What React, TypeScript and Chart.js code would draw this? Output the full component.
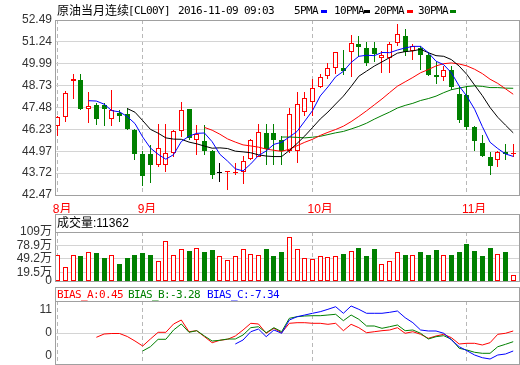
import React, { useEffect, useRef } from "react";
import { Chart, registerables } from "chart.js";

Chart.register(...registerables);

const N = 60;
const X_MIN = -0.36;
const X_MAX = 59.75;

const monthTicks = [0, 11, 33, 53];
const monthLabels = ["8月", "9月", "10月", "11月"];

const priceTicks = [42.47, 43.72, 44.97, 46.23, 47.48, 48.73, 49.99, 51.24, 52.49];
const priceTickLabels = ["42.47", "43.72", "44.97", "46.23", "47.48", "48.73", "49.99", "51.24", "52.49"];

const volTicks = [0, 19.5, 49.2, 78.9, 109];
const volTickLabels = ["0", "19.5万", "49.2万", "78.9万", "109万"];

const biasTicks = [-11, 0, 11];
const biasTickLabels = ["0", "0", "11"];

const opens = [46.41, 46.95, 49.02, 49.04, 47.41, 47.6, 47.6, 46.83, 47.18, 47.08, 46.22, 44.83, 44.83, 44.16, 44.16, 44.87, 46.16, 47.37, 45.64, 45.58, 45.01, 43.72, 43.76, 43.72, 43.78, 44.53, 44.64, 46.03, 46.03, 45.64, 45.01, 45.01, 47.24, 47.81, 48.65, 49.29, 49.77, 49.72, 50.64, 51.12, 50.89, 50.87, 50.29, 50.29, 51.17, 51.59, 50.73, 50.87, 50.48, 49.33, 49.25, 49.62, 48.23, 48.18, 46.35, 45.45, 44.62, 44.49, 44.93, 44.8];
const highs = [46.97, 48.42, 49.39, 49.39, 48.37, 47.76, 47.76, 48.46, 47.33, 47.47, 46.27, 45.01, 45.35, 46.56, 46.56, 46.2, 47.79, 47.4, 46.5, 46.5, 45.03, 44.3, 43.81, 44.3, 44.68, 45.66, 46.55, 46.55, 46.55, 45.83, 47.47, 48.37, 48.37, 49.14, 49.39, 50.0, 50.66, 50.77, 51.63, 51.59, 51.21, 51.21, 50.73, 51.25, 52.27, 51.98, 51.12, 51.02, 50.64, 50.06, 49.87, 49.87, 48.71, 48.71, 46.41, 45.93, 44.91, 44.97, 45.41, 45.41];
const lows = [45.83, 46.64, 47.95, 47.33, 46.6, 46.45, 46.41, 46.41, 46.64, 46.22, 44.49, 43.01, 43.18, 44.08, 43.81, 44.62, 45.8, 45.6, 44.74, 44.78, 43.39, 43.24, 42.76, 43.62, 43.09, 44.5, 44.62, 44.2, 44.2, 44.2, 44.87, 44.33, 46.98, 47.02, 48.62, 49.14, 49.39, 49.33, 49.2, 50.35, 49.87, 50.06, 49.48, 49.48, 51.02, 50.44, 50.21, 49.63, 49.29, 48.85, 49.0, 48.48, 46.6, 46.22, 44.97, 44.66, 43.62, 44.1, 44.49, 44.64];
const closes = [46.95, 48.33, 49.14, 47.37, 47.58, 46.83, 47.41, 47.33, 46.98, 46.27, 44.83, 43.53, 44.2, 45.16, 44.87, 46.12, 47.31, 45.74, 45.97, 44.97, 43.62, 43.72, 43.78, 43.74, 44.39, 45.64, 46.08, 45.1, 45.64, 45.01, 47.12, 47.7, 48.04, 48.62, 49.2, 49.72, 50.64, 49.58, 51.17, 50.93, 50.02, 50.54, 50.48, 51.12, 51.69, 50.64, 50.98, 50.48, 49.33, 49.23, 49.62, 48.65, 46.74, 46.35, 45.54, 44.68, 44.14, 44.93, 44.82, 44.84];

// volume in 万
const volumes = [57.2, 31.1, 57.2, 55.6, 63.8, 62.3, 51.8, 57.2, 37.8, 51.8, 57.2, 62.3, 57.8, 44.5, 88.3, 57.2, 70.5, 66.7, 72.7, 64.5, 69.0, 55.0, 46.7, 55.0, 70.5, 59.4, 57.2, 71.2, 55.6, 64.5, 97.9, 71.2, 51.2, 48.9, 55.6, 53.4, 55.6, 60.1, 66.7, 73.4, 55.6, 71.2, 37.8, 44.5, 64.5, 57.8, 57.8, 64.5, 57.8, 69.0, 57.8, 57.8, 64.5, 82.3, 66.7, 55.6, 73.4, 60.1, 64.5, 13.3];

// moving averages (first value at index given by *_START)
const MA5_START = 4;
const ma5 = [47.87, 47.85, 47.67, 47.3, 47.23, 46.96, 46.56, 45.79, 45.16, 44.8, 44.52, 44.78, 45.53, 45.84, 46.0, 46.02, 45.52, 44.8, 44.41, 43.97, 43.85, 44.25, 44.73, 44.99, 45.37, 45.49, 45.79, 46.11, 46.7, 47.3, 48.14, 48.66, 49.24, 49.55, 50.06, 50.41, 50.47, 50.45, 50.63, 50.62, 50.77, 50.89, 50.98, 50.98, 50.62, 50.13, 49.93, 49.46, 48.71, 48.12, 47.38, 46.39, 45.49, 45.13, 44.82, 44.68];
const MA10_START = 9;
const ma10 = [47.42, 47.21, 46.73, 46.23, 46.01, 45.74, 45.67, 45.66, 45.5, 45.4, 45.27, 45.15, 45.17, 45.13, 44.98, 44.94, 44.89, 44.77, 44.7, 44.67, 44.67, 45.02, 45.42, 45.85, 46.33, 46.82, 47.22, 47.68, 48.13, 48.68, 49.27, 49.56, 49.85, 50.09, 50.34, 50.59, 50.68, 50.72, 50.81, 50.62, 50.45, 50.41, 50.22, 49.85, 49.37, 48.76, 48.16, 47.48, 46.92, 46.47, 46.03];
const MA20_START = 19;
const ma20 = [46.34, 46.18, 45.95, 45.68, 45.5, 45.34, 45.28, 45.21, 45.1, 45.03, 44.97, 45.09, 45.29, 45.49, 45.66, 45.88, 46.06, 46.22, 46.41, 46.67, 46.97, 47.29, 47.63, 47.97, 48.34, 48.7, 48.95, 49.2, 49.47, 49.65, 49.86, 49.99, 50.03, 49.97, 49.86, 49.67, 49.42, 49.1, 48.86, 48.55, 48.24];
const MA30_START = 29;
const ma30 = [45.79, 45.79, 45.77, 45.74, 45.78, 45.83, 45.93, 46.03, 46.11, 46.25, 46.4, 46.58, 46.81, 47.02, 47.22, 47.45, 47.6, 47.72, 47.88, 47.99, 48.13, 48.33, 48.5, 48.59, 48.68, 48.72, 48.69, 48.62, 48.62, 48.59, 48.58];

const BIAS_A_START = 5;
const biasA = [-2.06, -0.48, -0.24, -0.24, -1.67, -3.83, -6.22, -2.87, 0.33, 0.33, 4.31, 6.22, 0.62, 1.1, -1.77, -4.64, -3.49, -3.01, -1.44, 1.44, 4.64, 4.31, -0.14, 2.25, 0.14, 4.64, 4.93, 4.93, 4.64, 4.64, 4.16, 4.64, 1.1, 4.16, 2.54, 0.14, 0.62, 1.1, 1.44, 2.54, -0.14, 0.62, -0.62, -2.54, -1.44, -0.62, -2.25, -5.26, -4.93, -4.93, -5.74, -4.64, -0.62, -0.14, 0.96];
const BIAS_B_START = 11;
const biasB = [-8.61, -6.56, -3.01, -3.01, 1.44, 4.31, 0.33, 1.1, -1.44, -3.83, -3.49, -2.87, -2.87, -0.96, 2.54, 3.01, 0.14, 2.54, 0.62, 7.03, 7.8, 8.13, 8.28, 8.28, 8.61, 8.95, 5.89, 8.61, 6.56, 3.35, 3.35, 2.25, 3.01, 3.83, 1.1, 1.44, -0.14, -2.87, -1.77, -1.29, -3.01, -7.32, -8.13, -9.23, -9.71, -9.71, -6.56, -5.41, -4.16];
const BIAS_C_START = 23;
const biasC = [-5.26, -3.35, 0.62, 1.91, -1.77, 1.44, -0.14, 6.22, 7.8, 8.61, 9.43, 10.19, 11.34, 12.58, 9.43, 12.92, 11.34, 9.43, 9.43, 9.43, 9.9, 10.53, 7.32, 4.93, 1.44, 0.96, 0.96, -0.14, -3.35, -6.56, -8.47, -10.53, -11.82, -12.44, -10.53, -10.05, -8.61];

const RED = "#ff0000";
const GREEN = "#008000";
const BLUE = "#0000ff";
const BLACK = "#000000";
const FRAME = "#a0a0a0";
const HGRID = "#d4d4d4";
const VGRID = "#b8b8b8";
const SANS = "'Liberation Sans', 'Noto Sans CJK SC', sans-serif";
const MONO = "'DejaVu Sans Mono', monospace";
const CJK = "'Noto Sans CJK SC', sans-serif";

const idx = Array.from({ length: N }, (_, i) => i);
const series = (start: number, arr: number[]) => arr.map((v, k) => ({ x: start + k, y: v }));

const candleColor = (i: number) => (closes[i] > opens[i] ? RED : closes[i] < opens[i] ? GREEN : BLACK);
const candleFill = (i: number) => (closes[i] > opens[i] ? "#ffffff" : closes[i] < opens[i] ? GREEN : BLACK);
const volColor = (i: number) => (closes[i] >= opens[i] ? RED : GREEN);
const volFill = (i: number) => (closes[i] >= opens[i] ? "#ffffff" : GREEN);

function framePlugin(boxTop: number | null) {
  return {
    id: "frame",
    afterDraw(chart: any) {
      const { ctx, chartArea: a } = chart;
      const top = boxTop === null ? a.top : boxTop;
      ctx.save();
      ctx.strokeStyle = FRAME;
      ctx.lineWidth = 1;
      ctx.strokeRect(a.left + 0.5, top + 0.5, a.right - a.left, a.bottom - top);
      if (boxTop !== null) {
        ctx.beginPath();
        ctx.moveTo(a.left, a.top + 0.5);
        ctx.lineTo(a.right + 1, a.top + 0.5);
        ctx.stroke();
      }
      ctx.restore();
    },
  };
}

// snap the bar elements (positioned by the scales) to whole pixels so edges stay crisp
const snapPlugin = {
  id: "snap",
  beforeDatasetsDraw(chart: any) {
    chart.data.datasets.forEach((_ds: any, di: number) => {
      const meta = chart.getDatasetMeta(di);
      if (meta.type !== "bar") return;
      meta.data.forEach((el: any) => {
        const w = el.width;
        const left = Math.round(el.x - w / 2);
        el.x = left + w / 2;
        el.y = Math.round(el.y);
        el.base = Math.round(el.base);
      });
    });
  },
};

function xScale(showLabels: boolean) {
  return {
    type: "linear",
    min: X_MIN,
    max: X_MAX,
    offset: false,
    afterBuildTicks: (s: any) => {
      s.ticks = monthTicks.map((v) => ({ value: v }));
    },
    afterFit: (s: any) => {
      s.height = showLabels ? 18 : 0;
      s.paddingLeft = 0;
      s.paddingRight = 0;
    },
    grid: { color: VGRID, lineWidth: 1, drawTicks: false, offset: false },
    border: { display: false, dash: [4, 3] },
    ticks: showLabels
      ? {
          display: true,
          autoSkip: false,
          maxRotation: 0,
          minRotation: 0,
          align: "start",
          labelOffset: -5,
          padding: 7,
          color: RED,
          font: { family: SANS, size: 12 },
          callback: (_v: any, i: number) => monthLabels[i],
        }
      : { display: false },
  };
}

function yScale(min: number, max: number, ticks: number[], labels: string[], gridColor: (v: number) => string) {
  return {
    type: "linear",
    min,
    max,
    afterBuildTicks: (s: any) => {
      s.ticks = ticks.map((v) => ({ value: v }));
    },
    afterFit: (s: any) => {
      s.width = 55;
      s.paddingTop = 0;
      s.paddingBottom = 0;
    },
    grid: {
      drawTicks: false,
      lineWidth: 1,
      color: (c: any) => gridColor(c.tick ? c.tick.value : 0),
    },
    border: { display: false },
    ticks: {
      autoSkip: false,
      padding: 3,
      color: "#333333",
      font: { family: SANS, size: 12 },
      callback: (_v: any, i: number) => labels[i],
    },
  };
}

const common = {
  responsive: false,
  animation: false,
  events: [],
  plugins: { legend: { display: false }, tooltip: { enabled: false } },
};

function mainConfig(): any {
  const line = (label: string, start: number, arr: number[], color: string) => ({
    type: "line",
    label,
    data: series(start, arr),
    borderColor: color,
    borderWidth: 1,
    pointRadius: 0,
    fill: false,
    tension: 0,
    order: 0,
  });
  return {
    type: "bar",
    data: {
      datasets: [
        line("5PMA", MA5_START, ma5, BLUE),
        line("10PMA", MA10_START, ma10, BLACK),
        line("20PMA", MA20_START, ma20, RED),
        line("30PMA", MA30_START, ma30, GREEN),
        {
          type: "bar",
          label: "body",
          data: idx.map((i) => ({ x: i, y: [opens[i], closes[i]] })),
          backgroundColor: idx.map(candleFill),
          borderColor: idx.map(candleColor),
          borderWidth: 1,
          borderSkipped: false,
          barThickness: 5,
          minBarLength: 1,
          grouped: false,
          inflateAmount: 0,
          order: 1,
        },
        {
          type: "bar",
          label: "wick",
          data: idx.map((i) => ({ x: i, y: [lows[i], highs[i]] })),
          backgroundColor: idx.map(candleColor),
          borderWidth: 0,
          barThickness: 1,
          grouped: false,
          inflateAmount: 0,
          order: 2,
        },
      ],
    },
    options: {
      ...common,
      layout: { padding: { left: 0, right: 1, top: 20, bottom: 0 } },
      scales: {
        x: xScale(true),
        y: yScale(42.47, 52.49, priceTicks, priceTickLabels, () => HGRID),
      },
    },
    plugins: [snapPlugin, framePlugin(null)],
  };
}

function volConfig(): any {
  return {
    type: "bar",
    data: {
      datasets: [
        {
          label: "成交量",
          data: idx.map((i) => ({ x: i, y: volumes[i] })),
          backgroundColor: idx.map(volFill),
          borderColor: idx.map(volColor),
          borderWidth: 1,
          borderSkipped: false,
          barThickness: 5,
          grouped: false,
          inflateAmount: 0,
        },
      ],
    },
    options: {
      ...common,
      layout: { padding: { left: 0, right: 1, top: 19, bottom: 3 } },
      scales: {
        x: xScale(false),
        y: yScale(0, 109, volTicks, volTickLabels, () => HGRID),
      },
    },
    plugins: [snapPlugin, framePlugin(1)],
  };
}

function biasConfig(): any {
  const line = (label: string, start: number, arr: number[], color: string) => ({
    type: "line",
    label,
    data: series(start, arr),
    borderColor: color,
    borderWidth: 1,
    pointRadius: 0,
    fill: false,
    tension: 0,
  });
  return {
    type: "line",
    data: {
      datasets: [
        line("BIAS_C", BIAS_C_START, biasC, BLUE),
        line("BIAS_B", BIAS_B_START, biasB, GREEN),
        line("BIAS_A", BIAS_A_START, biasA, RED),
      ],
    },
    options: {
      ...common,
      layout: { padding: { left: 0, right: 1, top: 17, bottom: 1 } },
      scales: {
        x: xScale(false),
        y: yScale(-14.83, 15.31, biasTicks, biasTickLabels, (v) => (v === 0 ? HGRID : "rgba(0,0,0,0)")),
      },
    },
    plugins: [framePlugin(3)],
  };
}

function T(props: { x: number; y: number; font: string; color?: string; ls?: string; children: React.ReactNode }) {
  return (
    <div
      style={{
        position: "absolute",
        left: props.x,
        top: props.y,
        font: props.font,
        lineHeight: "14px",
        color: props.color || "#000",
        letterSpacing: props.ls || "normal",
        whiteSpace: "nowrap",
      }}
    >
      {props.children}
    </div>
  );
}

function Dash(props: { x: number; color: string }) {
  return <div style={{ position: "absolute", left: props.x, top: 10, width: 6, height: 3, background: props.color }} />;
}

export default function App() {
  const mainRef = useRef<HTMLCanvasElement>(null);
  const volRef = useRef<HTMLCanvasElement>(null);
  const biasRef = useRef<HTMLCanvasElement>(null);

  useEffect(() => {
    const charts = [
      new Chart(mainRef.current as HTMLCanvasElement, mainConfig()),
      new Chart(volRef.current as HTMLCanvasElement, volConfig()),
      new Chart(biasRef.current as HTMLCanvasElement, biasConfig()),
    ];
    return () => charts.forEach((c) => c.destroy());
  }, []);

  const mono = `11px ${MONO}`;
  const ls = "-0.62px";
  return (
    <div style={{ position: "absolute", left: 0, top: 0, width: 520, height: 365, background: "#fff", overflow: "hidden" }}>
      <canvas ref={mainRef} width={520} height={213} style={{ position: "absolute", left: 0, top: 0, width: 520, height: 213 }} />
      <canvas ref={volRef} width={520} height={71} style={{ position: "absolute", left: 0, top: 213, width: 520, height: 71 }} />
      <canvas ref={biasRef} width={520} height={81} style={{ position: "absolute", left: 0, top: 284, width: 520, height: 81 }} />

      <T x={57} y={3} font={`12px ${CJK}`}>原油当月连续</T>
      <T x={128} y={4} font={mono} ls={ls}>[CL00Y]</T>
      <T x={178} y={4} font={mono} ls={ls}>2016-11-09 09:03</T>
      <T x={294} y={4} font={mono} ls={ls}>5PMA</T>
      <Dash x={321} color={BLUE} />
      <T x={334} y={4} font={mono} ls={ls}>10PMA</T>
      <Dash x={364} color={BLACK} />
      <T x={374} y={4} font={mono} ls={ls}>20PMA</T>
      <Dash x={407} color={RED} />
      <T x={418} y={4} font={mono} ls={ls}>30PMA</T>
      <Dash x={450} color={GREEN} />

      <T x={57} y={216} font={`12px ${SANS}`}>成交量:11362</T>

      <T x={57} y={288} font={mono} ls={ls} color={RED}>BIAS_A:0.45</T>
      <T x={128} y={288} font={mono} ls={ls} color={GREEN}>BIAS_B:-3.28</T>
      <T x={207} y={288} font={mono} ls={ls} color={BLUE}>BIAS_C:-7.34</T>
    </div>
  );
}
